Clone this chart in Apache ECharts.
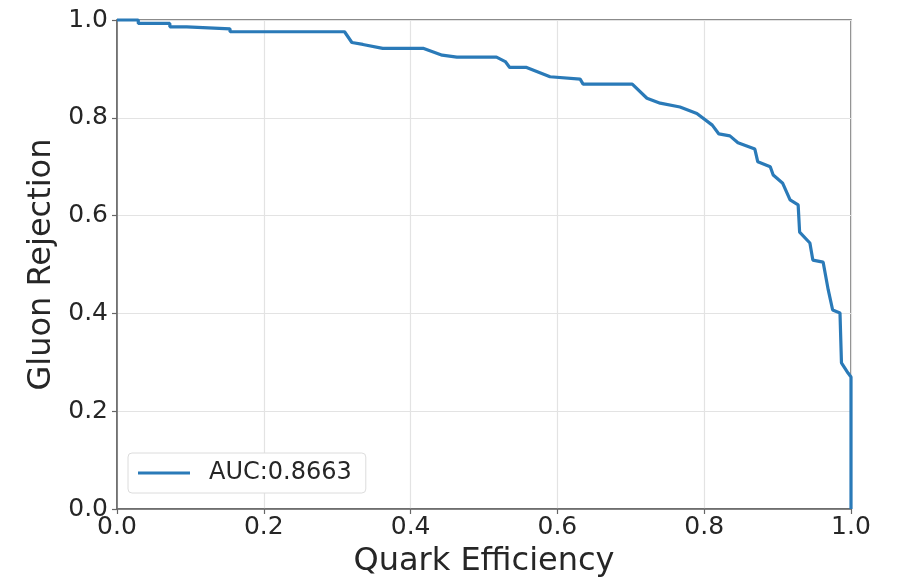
<!DOCTYPE html>
<html><head><meta charset="utf-8">
<script src="https://cdn.jsdelivr.net/npm/echarts@6/dist/echarts.min.js"></script>
<style>html,body{margin:0;padding:0;background:#fff}#c{width:900px;height:583px}</style>
</head><body><div id="c"></div>
<script>
const quarkEff = [0,0.029,0.029,0.072,0.072,0.095,0.095,0.154,0.154,0.31,0.32,0.335,0.362,0.417,0.43,0.443,0.463,0.517,0.529,0.535,0.558,0.590,0.631,0.635,0.702,0.722,0.740,0.767,0.790,0.811,0.820,0.835,0.846,0.869,0.873,0.890,0.894,0.907,0.917,0.928,0.930,0.930,0.944,0.948,0.962,0.969,0.975,0.985,0.987,0.996,1.0,1.0];
const gluonRej = [1.0,1.0,0.993,0.993,0.986,0.986,0.982,0.982,0.976,0.976,0.954,0.950,0.942,0.942,0.935,0.928,0.924,0.924,0.915,0.903,0.903,0.884,0.879,0.869,0.869,0.840,0.830,0.822,0.809,0.785,0.767,0.763,0.749,0.736,0.710,0.700,0.683,0.666,0.632,0.622,0.618,0.566,0.544,0.509,0.505,0.448,0.407,0.401,0.299,0.278,0.27,0.0];
const seriesName = 'AUC:0.8663';
const font = 'DejaVu Sans';
const chart = echarts.init(document.getElementById('c'));
const axisCommon = {
  min: 0, max: 1, interval: 0.2,
  axisLine: {show: true, lineStyle: {color: '#666', width: 1.5}},
  axisTick: {show: true, length: 5, lineStyle: {color: '#666', width: 1.2}},
  splitLine: {show: true, lineStyle: {color: '#e3e3e3', width: 1.2}},
  axisLabel: {fontFamily: font, fontSize: 25, color: '#262626', formatter: v => v.toFixed(1)},
  nameLocation: 'middle',
  nameTextStyle: {fontFamily: font, fontSize: 32, color: '#262626'}
};
chart.setOption({
  animation: false,
  grid: {left: 117, right: 49, top: 20, bottom: 74, show: true, borderColor: '#666', borderWidth: 1.5},
  xAxis: Object.assign({}, axisCommon, {type: 'value', name: 'Quark Efficiency', nameGap: 37,
    axisLabel: Object.assign({}, axisCommon.axisLabel, {margin: 6})}),
  yAxis: Object.assign({}, axisCommon, {type: 'value', name: 'Gluon Rejection', nameGap: 57,
    axisLabel: Object.assign({}, axisCommon.axisLabel, {margin: 9})}),
  legend: {
    left: 128, top: 453, orient: 'vertical',
    backgroundColor: '#fff', borderColor: '#dcdcdc', borderWidth: 1, borderRadius: 4,
    padding: [8, 14, 8, 10],
    icon: 'rect', itemWidth: 52, itemHeight: 3,
    textStyle: {fontFamily: font, fontSize: 24, color: '#262626', padding: [0, 0, 0, 14]},
    data: [seriesName]
  },
  series: [{
    name: seriesName, type: 'line', showSymbol: false, symbol: 'none',
    color: '#2a7ab8',
    lineStyle: {width: 3.2, color: '#2a7ab8'},
    data: quarkEff.map((x, i) => [x, gluonRej[i]]),
    clip: false
  }]
});
</script></body></html>
